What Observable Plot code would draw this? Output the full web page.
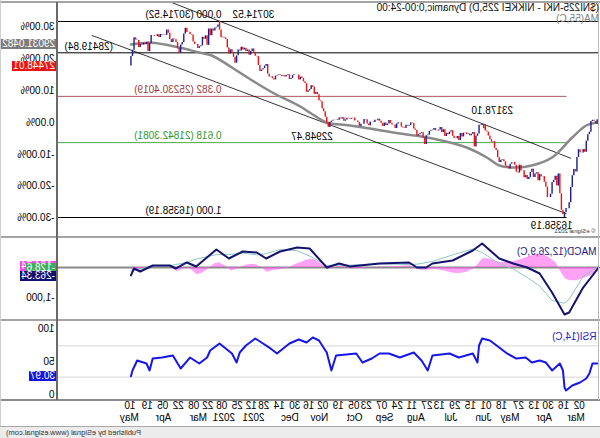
<!DOCTYPE html>
<html>
<head>
<meta charset="utf-8">
<script src="https://cdn.jsdelivr.net/npm/d3@7"></script>
<script src="https://cdn.jsdelivr.net/npm/@observablehq/plot@0.6"></script>
<style>
  html, body { margin:0; padding:0; background:#fff; }
  #chart { position:relative; width:600px; height:438px; overflow:hidden; transform:scaleX(-1);
           font-family:"Liberation Sans", Arial, sans-serif; font-size:10px; color:#000; background:#fff; }
  #chart svg { position:absolute; left:0; }
  .ln { position:absolute; }
  .box { position:absolute; height:10px; line-height:10px; font-size:10px; white-space:nowrap; padding:0 1px; color:#fff; }
  .lbl { position:absolute; white-space:nowrap; line-height:10px; }
</style>
</head>
<body>
<div id="chart"></div>
<script>
// ---------------- DATA ----------------
// Daily closes, NIKKEI 225, 17 Feb 2020 .. 13 May 2021 (one per trading day, index = trading day)
const closes = [
23523,23194,23400,23479,23386,22605,22426,21948,21142,
21344,21082,21100,21329,20749,19698,19867,19416,18559,17431,17002,17012,16726,16552,16887,18092,19546,18664,19389,19084,18917,
18065,17819,17820,18576,18950,19353,19345,19498,19043,19638,19550,19290,19897,19669,19280,19137,19429,19262,19783,19771,20193,
19619,19674,20179,20390,20366,20267,19915,20037,20133,20433,20595,20552,20388,20741,21271,21419,21916,21877,
22062,22325,22613,22695,22863,23178,23091,23124,22472,22305,21530,22582,22455,22355,22478,22437,22549,22534,22260,22512,21995,22288,
22122,22145,22306,22714,22614,22438,22529,22291,22784,22587,22945,22770,22696,22717,22884,22751,22715,22657,22397,22339,21710,
22195,22573,22514,22418,22329,22750,22843,23250,23289,23097,23051,23110,22880,22920,22985,23296,23290,23209,22882,23140,
23138,23247,23465,23205,23089,23274,23032,23235,23406,23559,23454,23475,23319,23360,23346,23087,23204,23511,23539,23185,
23185,23030,23312,23433,23422,23647,23620,23558,23601,23627,23508,23411,23671,23567,23640,23474,23517,23495,23485,23419,23331,22977,
23295,23695,24105,24325,24839,24905,25349,25520,25385,25907,26014,25728,25634,25527,26165,26297,26537,26644,26434,
26787,26801,26809,26751,26547,26467,26817,26756,26652,26733,26687,26757,26806,26763,26714,26436,26524,26668,26656,26854,27568,27444,
27258,27158,27056,27490,28139,28164,28456,28698,28519,28242,28633,28523,28756,28631,28822,28546,28635,28197,27663,
28091,28362,28646,28341,28779,29388,29505,29562,29520,30084,30467,30292,30236,30017,30156,29671,30168,28966,
29664,29408,29559,28930,28864,28743,29028,29036,29212,29717,29766,29921,29914,30216,29792,29174,28996,28405,28729,29176,29385,29432,29178,
29388,29854,30089,29696,29730,29708,29768,29538,29751,29620,29642,29683,29685,29100,28508,29188,29020,29126,28991,29053,28813,
29331,29357,29518,28609,28147,27448.01
];

// swing points (trading-day index, price)
const swingIdx = [22, 73, 173, 244];
const swingVal = [16358.19, 23178.10, 22948.47, 30714.52];

// Fibonacci retracement
const fibHigh = 30714.52, fibLow = 16358.19;
const fibRatios = [0, 0.382, 0.618, 1];
const levelLine = 28419.84;

// percent axis
const pctBase = 23317;
const pctTicks = [0.3, 0.2, 0.1, 0, -0.1, -0.2, -0.3];

// channel lines (index, price)
const chanUpperIdx = [18, 278], chanUpperVal = [20700, 32250];
const chanLowerIdx = [21, 326], chanLowerVal = [16650, 29690];

// MA(55)
const maIdx = [0, 8, 17, 30, 43, 53, 64, 72, 85, 107, 128, 160, 175, 186, 192, 210, 223, 236, 249, 257, 270, 288, 301];
const maVal = [23330, 23097, 22218, 20754, 20167, 20021, 20167, 20754, 21486, 22145, 22511, 23097, 23317, 24050, 24489, 25514, 26393, 27345, 28224, 28444, 28810, 29150, 29031.0482];

// MACD(12,26,9)
const macdIdx = [0, 10, 19, 22, 30, 38, 46, 55, 64, 75, 81, 94, 107, 111, 117, 122, 141, 160, 167, 175, 186, 194, 205, 214, 220, 229, 238, 246, 259, 265, 272, 276, 287, 295, 299, 301];
const macdVal = [0, -667, -1500, -1567, -833, -200, 0, 133, 300, 800, 567, 233, 133, 0, 0, 167, 133, 33, 133, 0, 633, 667, 533, 300, 500, 533, 300, 600, 33, 167, -33, 67, 67, -133, -33, -263.34];
const sigIdx = [0, 10, 19, 22, 30, 38, 46, 55, 64, 75, 81, 94, 107, 117, 122, 141, 160, 167, 175, 186, 194, 205, 214, 220, 229, 238, 246, 259, 265, 272, 276, 287, 295, 301];
const sigVal = [50, -300, -1060, -1190, -1100, -620, -330, -50, 130, 500, 620, 420, 200, 110, 100, 120, 80, 80, 70, 380, 560, 600, 460, 420, 480, 430, 430, 280, 170, 100, 60, 30, -40, -128.6];
const histIdx = [0, 5, 10, 15, 19, 22, 25, 28, 32, 36, 40, 44, 48, 52, 56, 60, 64, 68, 72, 75, 78, 81, 86, 90, 94, 100, 105, 110, 115, 119, 122, 128, 135, 141, 150, 155, 160, 164, 167, 171, 175, 180, 184, 188, 192, 196, 200, 205, 210, 214, 218, 222, 226, 229, 233, 237, 241, 245, 248, 252, 256, 259, 263, 266, 269, 272, 276, 280, 285, 290, 295, 298, 301];
const histVal = [-50, -250, -370, -440, -440, -380, -150, 150, 320, 430, 440, 380, 320, 240, 190, 170, 170, 230, 290, 300, 120, -50, -170, -200, -190, -120, -70, -80, -100, -20, 60, 40, 20, 15, -20, -40, -45, 20, 50, -20, -70, 150, 270, 260, 170, 100, -20, -70, -100, -160, 20, 110, 90, 50, -60, -120, 60, 160, 120, -60, -200, -240, -60, 0, -80, -130, 10, 40, 40, 20, -90, -60, -134.74];

// RSI(14)
const rsiIdx = [1, 4, 6, 8, 12, 17, 21, 22, 23, 25, 30, 34, 38, 43, 47, 53, 59, 64, 70, 75, 77, 78, 81, 90, 96, 107, 110, 114, 119, 128, 135, 141, 146, 152, 156, 169, 172, 175, 180, 184, 188, 193, 199, 207, 212, 216, 221, 227, 231, 233, 236, 244, 250, 252, 257, 263, 269, 274, 281, 287, 289, 291, 297, 300, 301];
const rsiVal = [47.4, 47.4, 34.6, 28.2, 23.1, 19.2, 12.8, 16.7, 38.5, 47.4, 38.5, 48.7, 51.3, 48.7, 55.1, 53.8, 60.3, 67.9, 76.9, 79.5, 70.5, 48.7, 60.3, 55.1, 60.3, 57.7, 38.5, 51.3, 61.5, 55.1, 60.3, 60.3, 53.8, 48.7, 60.3, 57.7, 38.5, 61.5, 76.9, 80.8, 74.4, 78.2, 73.1, 60.3, 67.9, 73.1, 79.5, 70.5, 61.5, 48.7, 60.3, 73.1, 64.1, 55.1, 47.4, 55.1, 41.0, 57.7, 55.1, 53.8, 38.5, 47.4, 51.3, 38.5, 30.97];

// time axis labels
const tickIdx = [9,19,29,38,48,59,69,79,89,99,107,117,126,136,146,154,164,174,183,192,202,212,220,229,239,248,257,267,277,287,298];
const tickDay = ["02","16","30","13","27","18","01","15","29","13","27","11","24","07","23","05","19","02","16","30","14","28","12","25","08","22","08","22","05","19","10"];
const monthIdx = [9,30,51,69,91,112,132,152,174,193,215,234,252,275,296];
const monthLabel = ["Mar","Apr","May","Jun","Jul","Aug","Sep","Oct","Nov","Dec","2021","2021","Mar","Apr","May"];

const titleText = "($NI225-NKI - NIKKEI 225,D) Dynamic,0:00-24:00";

// ---------------- BUILD ----------------
const chart = document.getElementById("chart");
const FONT = '"Liberation Sans", Arial, sans-serif';
const xDom = [0.77, 348.9];
const common = {
  width: 600, marginLeft: 2, marginRight: 57,
  x: {domain: xDom, axis: null},
  style: {background: "transparent", fontFamily: FONT, fontSize: "10px", color: "#000", overflow: "visible"}
};
const pts = (I, V) => I.map((i, k) => ({i, v: V[k]}));

const bars = closes.map((c, i) => {
  const p = i > 0 ? closes[i - 1] : c;
  let lo = Math.min(p, c), hi = Math.max(p, c);
  const k = swingIdx.indexOf(i);
  if (k >= 0) { lo = Math.min(lo, swingVal[k]); hi = Math.max(hi, swingVal[k]); }
  return {i, lo, hi, up: c >= p};
});
const fibs = fibRatios.map(r => ({r, v: fibHigh - r * (fibHigh - fibLow)}));
const fibLabel = f => `${f.r.toFixed(3)} (${(f.r === 0 || f.r === 1) ? f.v.toFixed(2) : f.v.toFixed(4)})`;
const fibColor = ["#000000", "#9c3a3a", "#2f962f", "#000000"];
const fibLine = ["#000000", "#b05a5a", "#4aa84a", "#000000"];

const pricePlot = Plot.plot({
  ...common, height: 238, marginTop: 2, marginBottom: 1,
  y: {domain: [14893.8, 32106], axis: null},
  marks: [
    Plot.ruleY([fibs[0].v], {stroke: fibLine[0], strokeWidth: 1}),
    Plot.ruleY([levelLine], {stroke: "#000", strokeWidth: 1}),
    ...[1, 2, 3].map(k => Plot.ruleY([fibs[k].v], {x1: swingIdx[0] - 1, x2: xDom[1], stroke: fibLine[k], strokeWidth: 1})),
    Plot.line(pts(chanUpperIdx, chanUpperVal), {x: "i", y: "v", stroke: "#000", strokeWidth: 0.8, clip: true}),
    Plot.line(pts(chanLowerIdx, chanLowerVal), {x: "i", y: "v", stroke: "#000", strokeWidth: 0.8, clip: true}),
    Plot.line(pts(maIdx, maVal), {x: "i", y: "v", stroke: "#8a8a8a", strokeWidth: 2.5, curve: "catmull-rom", clip: true}),
    Plot.ruleX(bars.filter(d => d.up), {x: "i", y1: "lo", y2: "hi", stroke: "#f01010", strokeWidth: 1.4, clip: true}),
    Plot.ruleX(bars.filter(d => !d.up), {x: "i", y1: "lo", y2: "hi", stroke: "#1c1c8e", strokeWidth: 1.4, clip: true}),
    ...fibs.map((f, k) => Plot.text([f], {x: swingIdx[3], y: "v", text: fibLabel, fill: fibColor[k], textAnchor: "start", dx: -2, dy: -7})),
    Plot.text([levelLine], {x: xDom[1], y: d => d, text: d => `(${d.toFixed(2)})`, textAnchor: "end", dx: -8, dy: -6}),
    Plot.text([3], {x: swingIdx[3], y: swingVal[3], text: k => swingVal[k].toFixed(2), textAnchor: "end", dx: -13, dy: -7}),
    Plot.text([1], {x: swingIdx[1], y: swingVal[1], text: k => swingVal[k].toFixed(2), textAnchor: "middle", dx: -7, dy: -14}),
    Plot.text([2], {x: swingIdx[2], y: swingVal[2], text: k => swingVal[k].toFixed(2), textAnchor: "start", dx: -3, dy: 9}),
    Plot.text([0], {x: swingIdx[0], y: swingVal[0], text: k => swingVal[k].toFixed(2), textAnchor: "start", dx: -8, dy: 8}),
    Plot.text(pctTicks, {y: p => pctBase * (1 + p), text: p => `${(p * 100).toFixed(2)}%`, frameAnchor: "right", textAnchor: "start", dx: 2}),
    Plot.text(["\u00a9 eSignal 2021"], {frameAnchor: "bottom-left", textAnchor: "start", dx: 2, dy: -5, fontSize: 6, fill: "#333"})
  ]
});

const macdPlot = Plot.plot({
  ...common, height: 82, marginTop: 1, marginBottom: 1,
  y: {domain: [-1733, 933], axis: null},
  marks: [
    Plot.ruleY([0], {stroke: "#8a8a8a", strokeWidth: 2}),
    Plot.areaY(pts(histIdx, histVal), {x: "i", y: "v", fill: "#ff55ee", fillOpacity: 0.55}),
    Plot.line(pts(sigIdx, sigVal), {x: "i", y: "v", stroke: "#8cc6c6", strokeWidth: 1}),
    Plot.line(pts(macdIdx, macdVal), {x: "i", y: "v", stroke: "#14146e", strokeWidth: 2}),
    Plot.text([-1000], {y: d => d, text: d => d.toLocaleString("en-US"), frameAnchor: "right", textAnchor: "start", dx: 2}),
    Plot.text(["MACD(12,26,9,C)"], {frameAnchor: "top-left", textAnchor: "start", dx: 1, dy: 8, fill: "#1a1a80"})
  ]
});

const rsiPlot = Plot.plot({
  ...common, height: 118, marginTop: 2, marginBottom: 38,
  y: {domain: [0, 100], axis: null},
  marks: [
    Plot.ruleY([30, 70], {stroke: "#d6d6d6", strokeWidth: 1}),
    Plot.line(pts(rsiIdx, rsiVal), {x: "i", y: "v", stroke: "#1616e8", strokeWidth: 2}),
    Plot.text([50], {y: d => d, text: d => String(d), frameAnchor: "right", textAnchor: "start", dx: 2}),
    Plot.text([100], {y: d => d, text: d => String(d), frameAnchor: "right", textAnchor: "start", dx: 2, dy: 6}),
    Plot.text([0], {y: d => d, text: d => String(d), frameAnchor: "right", textAnchor: "start", dx: 2, dy: -6}),
    Plot.text(["RSI(14,C)"], {frameAnchor: "top-left", textAnchor: "start", dx: 1, dy: 10, fill: "#2222cc"}),
    Plot.text(tickIdx, {x: d => d, text: (d, i) => tickDay[i], frameAnchor: "bottom", textAnchor: "start", dy: 8}),
    Plot.text(monthIdx, {x: d => d, text: (d, i) => monthLabel[i], frameAnchor: "bottom", textAnchor: "start", dy: 20})
  ]
});

[[pricePlot, 0], [macdPlot, 238], [rsiPlot, 320]].forEach(([p, top]) => {
  p.style.position = "absolute"; p.style.top = top + "px"; p.style.left = "0px";
  chart.appendChild(p);
});

// frame lines
function line(css) { const d = document.createElement("div"); d.className = "ln"; d.style.cssText = css; chart.appendChild(d); }
line("left:0;top:1px;width:600px;height:2px;background:#a4a4a4");
line("left:0;top:236px;width:600px;height:2px;background:#a4a4a4");
line("left:0;top:319px;width:600px;height:2px;background:#a4a4a4");
line("left:0;top:399px;width:600px;height:2px;background:#8c8c8c");
line("left:542px;top:2px;width:2px;height:398px;background:#6a6a6a");
line("left:1px;top:2px;width:1px;height:398px;background:#b8b8b8");
line("left:599px;top:0;width:1px;height:438px;background:#cfcfcf");
line("left:0;top:426px;width:600px;height:12px;background:#ececec;border-top:1px solid #a8a8a8");

function lbl(text, css) { const d = document.createElement("div"); d.className = "lbl"; d.textContent = text; d.style.cssText = css; chart.appendChild(d); }
lbl(titleText, "left:1px;top:3px;font-size:10px;color:#111");
lbl("MA(55,C)", "left:1px;top:14px;font-size:10px;color:#808080");
lbl("Published by eSignal (www.esignal.com)", "right:6px;top:428px;font-size:7.5px;color:#333");

// value boxes on the axis
function box(top, text, bg, z, extra) {
  const d = document.createElement("div"); d.className = "box"; d.textContent = text;
  d.style.cssText = `left:544px;top:${Math.round(top - 5)}px;background:${bg};z-index:${z};${extra || ""}`;
  chart.appendChild(d);
}
const yP = pricePlot.scale("y"), yM = macdPlot.scale("y"), yR = rsiPlot.scale("y");
const maLast = maVal[maVal.length - 1], cLast = closes[closes.length - 1];
box(yP.apply(maLast), maLast.toFixed(4), "#7c7c7c", 5);
box(yP.apply(cLast), cLast.toFixed(2), "#ee1111", 5);
const hLast = histVal[histVal.length - 1], sLast = sigVal[sigVal.length - 1], mLast = macdVal[macdVal.length - 1];
box(238 + yM.apply(hLast) - 5, hLast.toFixed(2), "#ff44ee", 4);
box(238 + yM.apply(sLast) - 3, sLast.toFixed(1), "#3cae5c", 5);
box(238 + yM.apply(mLast) + 1, mLast.toFixed(2), "#101070", 6);
const rLast = rsiVal[rsiVal.length - 1];
box(320 + yR.apply(rLast), rLast.toFixed(2), "#1414e0", 5);
</script>
</body>
</html>
